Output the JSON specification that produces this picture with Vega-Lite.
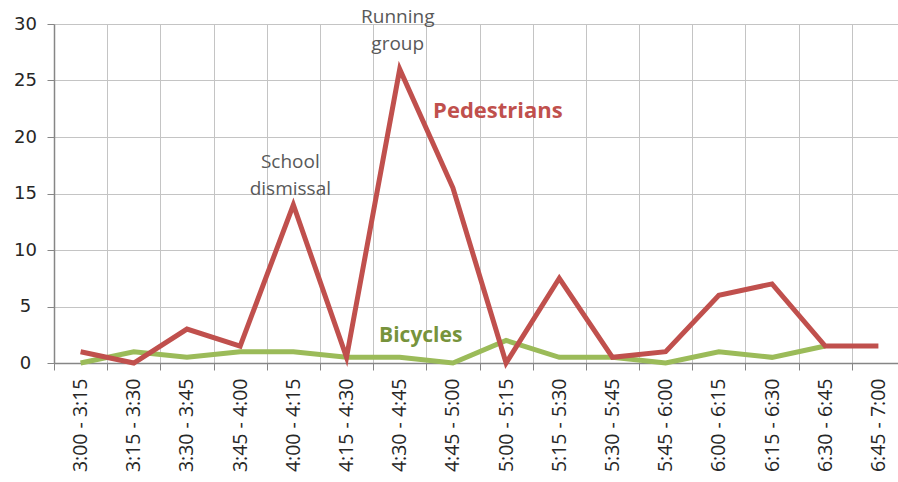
{
  "$schema": "https://vega.github.io/schema/vega-lite/v6.json",
  "autosize": {"type": "none"},
  "width": 844,
  "height": 339,
  "padding": {"left": 54, "top": 24, "right": 0, "bottom": 119},
  "background": "white",
  "config": {"view": {"stroke": null}, "font": "Open Sans"},
  "data": {
    "values": [
      {"time": "3:00 - 3:15", "series": "Pedestrians", "value": 1},
      {"time": "3:15 - 3:30", "series": "Pedestrians", "value": 0},
      {"time": "3:30 - 3:45", "series": "Pedestrians", "value": 3},
      {"time": "3:45 - 4:00", "series": "Pedestrians", "value": 1.5},
      {"time": "4:00 - 4:15", "series": "Pedestrians", "value": 14},
      {"time": "4:15 - 4:30", "series": "Pedestrians", "value": 0.5},
      {"time": "4:30 - 4:45", "series": "Pedestrians", "value": 26},
      {"time": "4:45 - 5:00", "series": "Pedestrians", "value": 15.5},
      {"time": "5:00 - 5:15", "series": "Pedestrians", "value": 0},
      {"time": "5:15 - 5:30", "series": "Pedestrians", "value": 7.5},
      {"time": "5:30 - 5:45", "series": "Pedestrians", "value": 0.5},
      {"time": "5:45 - 6:00", "series": "Pedestrians", "value": 1},
      {"time": "6:00 - 6:15", "series": "Pedestrians", "value": 6},
      {"time": "6:15 - 6:30", "series": "Pedestrians", "value": 7},
      {"time": "6:30 - 6:45", "series": "Pedestrians", "value": 1.5},
      {"time": "6:45 - 7:00", "series": "Pedestrians", "value": 1.5},
      {"time": "3:00 - 3:15", "series": "Bicycles", "value": 0},
      {"time": "3:15 - 3:30", "series": "Bicycles", "value": 1},
      {"time": "3:30 - 3:45", "series": "Bicycles", "value": 0.5},
      {"time": "3:45 - 4:00", "series": "Bicycles", "value": 1},
      {"time": "4:00 - 4:15", "series": "Bicycles", "value": 1},
      {"time": "4:15 - 4:30", "series": "Bicycles", "value": 0.5},
      {"time": "4:30 - 4:45", "series": "Bicycles", "value": 0.5},
      {"time": "4:45 - 5:00", "series": "Bicycles", "value": 0},
      {"time": "5:00 - 5:15", "series": "Bicycles", "value": 2},
      {"time": "5:15 - 5:30", "series": "Bicycles", "value": 0.5},
      {"time": "5:30 - 5:45", "series": "Bicycles", "value": 0.5},
      {"time": "5:45 - 6:00", "series": "Bicycles", "value": 0},
      {"time": "6:00 - 6:15", "series": "Bicycles", "value": 1},
      {"time": "6:15 - 6:30", "series": "Bicycles", "value": 0.5},
      {"time": "6:30 - 6:45", "series": "Bicycles", "value": 1.5}
    ]
  },
  "encoding": {
    "x": {
      "field": "time",
      "type": "ordinal",
      "sort": null,
      "scale": {"type": "band", "paddingInner": 0, "paddingOuter": 0, "range": [0, 851]},
      "axis": {
        "title": null,
        "tickBand": "extent",
        "grid": true,
        "gridColor": "#c4c4c4",
        "gridWidth": 1,
        "domainColor": "#868686",
        "domainWidth": 1.5,
        "tickColor": "#868686",
        "tickSize": 7,
        "labelAngle": -90,
        "labelAlign": "right",
        "labelBaseline": "middle",
        "labelPadding": 8,
        "labelFont": "Open Sans",
        "labelFontSize": 19.5,
        "labelColor": "#262626"
      }
    },
    "y": {
      "field": "value",
      "type": "quantitative",
      "scale": {"domain": [0, 30], "nice": false, "zero": true},
      "axis": {
        "title": null,
        "values": [0, 5, 10, 15, 20, 25, 30],
        "grid": true,
        "gridColor": "#c4c4c4",
        "gridWidth": 1,
        "domainColor": "#868686",
        "domainWidth": 1.5,
        "tickColor": "#868686",
        "tickSize": 7,
        "labelAlign": "center",
        "labelBaseline": "middle",
        "labelPadding": 22,
        "labelFont": "DejaVu Sans",
        "labelFontSize": 18,
        "labelColor": "#262626"
      }
    }
  },
  "layer": [
    {
      "transform": [{"filter": "datum.series === 'Bicycles'"}],
      "mark": {"type": "line", "color": "#9bbb59", "strokeWidth": 5, "strokeJoin": "miter", "strokeCap": "butt"}
    },
    {
      "transform": [{"filter": "datum.series === 'Pedestrians'"}],
      "mark": {"type": "line", "color": "#c0504d", "strokeWidth": 5, "strokeJoin": "miter", "strokeCap": "butt"}
    },
    {
      "transform": [{"filter": "datum.series === 'Pedestrians' && datum.time === '4:00 - 4:15'"}],
      "mark": {"type": "text", "text": ["School", "dismissal"], "font": "Open Sans", "fontSize": 19, "color": "#595959", "align": "center", "baseline": "bottom", "lineHeight": 27, "dx": -3, "dy": -33}
    },
    {
      "transform": [{"filter": "datum.series === 'Pedestrians' && datum.time === '4:30 - 4:45'"}],
      "mark": {"type": "text", "text": ["Running", "group"], "font": "Open Sans", "fontSize": 19, "color": "#595959", "align": "center", "baseline": "bottom", "lineHeight": 27, "dx": -2, "dy": -42}
    },
    {
      "transform": [{"filter": "datum.series === 'Pedestrians' && datum.time === '4:45 - 5:00'"}],
      "mark": {"type": "text", "text": "Pedestrians", "font": "Open Sans", "fontSize": 22, "fontWeight": "bold", "color": "#c0504d", "align": "center", "baseline": "alphabetic", "dx": 45, "dy": -70}
    },
    {
      "transform": [{"filter": "datum.series === 'Bicycles' && datum.time === '4:30 - 4:45'"}],
      "mark": {"type": "text", "text": "Bicycles", "font": "Open Sans", "fontSize": 21, "fontWeight": "bold", "color": "#77933c", "align": "center", "baseline": "alphabetic", "dx": 21, "dy": -15}
    }
  ]
}
